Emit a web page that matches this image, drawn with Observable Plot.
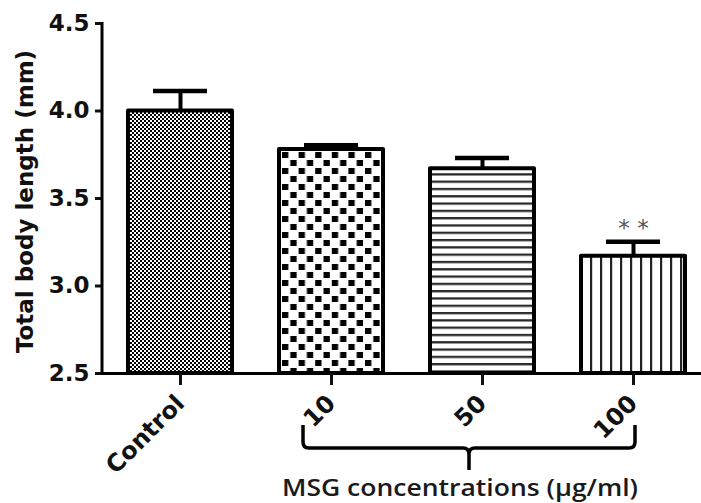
<!DOCTYPE html>
<html><head><meta charset="utf-8">
<script src="https://cdn.jsdelivr.net/npm/d3@7"></script>
<script src="https://cdn.jsdelivr.net/npm/@observablehq/plot@0.6"></script>
<style>body{margin:0;background:#fff} svg{display:block}</style>
</head><body><div id="chart"></div>
<script>
// ---- data ----
const categories = ["Control", "10", "50", "100"];
const means = [4.00, 3.78, 3.67, 3.17];
const sds = [0.115, 0.025, 0.062, 0.083];
const significance = ["", "", "", "* *"];
const yTicks = [2.5, 3.0, 3.5, 4.0, 4.5];
const yDomain = [2.5, 4.5];
const yLabel = "Total body length (mm)";
const xLabel = "MSG concentrations (µg/ml)";
const bracketFrom = "10", bracketTo = "100";

// ---- styles ----
const patternOf = {"Control": "url(#pat-fine)", "10": "url(#pat-check)", "50": "url(#pat-hlines)", "100": "url(#pat-vlines)"};

const data = categories.map((c, i) => ({cat: c, mean: means[i], sd: sds[i], top: means[i] + sds[i], sig: significance[i]}));
const base = yDomain[0];

const W = 701, H = 503, ML = 102, MR = 0, MT = 23, MB = 130;

const plot = Plot.plot({
  width: W, height: H, marginLeft: ML, marginRight: MR, marginTop: MT, marginBottom: MB,
  style: {fontFamily: "DejaVu Sans", background: "#fff", color: "#111", overflow: "visible"},
  x: {domain: categories, paddingInner: 0.314, paddingOuter: 0.1317, align: 0.614, label: null},
  y: {domain: yDomain, label: null},
  color: {type: "identity"},
  marks: [
    Plot.ruleX(data, {x: "cat", y1: "mean", y2: "top", stroke: "#000", strokeWidth: 4}),
    Plot.tickY(data, {x: "cat", y: "top", stroke: "#000", strokeWidth: 4.5, insetLeft: 25, insetRight: 25}),
    Plot.barY(data, {x: "cat", y1: () => base, y2: "mean", fill: d => patternOf[d.cat], stroke: "#000", strokeWidth: 4, strokeLinejoin: "round"}),
    Plot.text(data, {x: "cat", y: "top", text: "sig", dy: -13, fontSize: 23, fill: "#555"}),
    Plot.ruleY([base], {stroke: "#000", strokeWidth: 3}),
    Plot.axisY({ticks: yTicks, tickFormat: d3.format(".1f"), tickSize: 7, tickPadding: 6, fontSize: 23, fontWeight: "bold", strokeWidth: 3, label: null}),
    Plot.axisX({tickSize: 12, tickRotate: -45, tickPadding: 14, fontSize: 24, fontWeight: "bold", strokeWidth: 3, label: null}),
    Plot.text([yLabel], {frameAnchor: "left", textAnchor: "middle", dx: -77, dy: 3, rotate: -90, text: d => d, fontSize: 23, fontWeight: "bold"})
  ]
});

const xs = plot.scale("x"), ys = plot.scale("y");
const bw = xs.bandwidth;
const cx = c => xs.apply(c) + bw / 2;
const svg = d3.select(plot);

// patterns
const defs = svg.insert("defs", ":first-child");
function pat(id, w, h, x0, y0, rects) {
  const p = defs.append("pattern").attr("id", id).attr("patternUnits", "userSpaceOnUse")
    .attr("width", w).attr("height", h).attr("x", x0).attr("y", y0);
  p.append("rect").attr("width", w).attr("height", h).attr("fill", "#fff");
  rects.forEach(r => p.append("rect").attr("x", r[0]).attr("y", r[1]).attr("width", r[2]).attr("height", r[3]).attr("fill", r[4]));
}
pat("pat-fine", 4, 4, xs.apply("Control"), 0, [[0, 0, 2, 2, "#000"], [2, 2, 2, 2, "#000"]]);
pat("pat-check", 16.6, 16, xs.apply("10") + 3, ys.apply(means[1]) + 3, [[0, 0, 6.3, 6, "#000"], [8.3, 8, 6.3, 6, "#000"]]);
pat("pat-hlines", 8, 7.3, 0, ys.apply(means[2]) + 5, [[0, 0, 8, 2.3, "#2a2a2a"]]);
pat("pat-vlines", 10, 8, xs.apply("100") + 9, 0, [[0, 0, 2.2, 8, "#222"]]);

// y axis line
const y0 = ys.apply(yDomain[0]), y1 = ys.apply(yDomain[1]);
svg.append("line").attr("x1", ML).attr("x2", ML).attr("y1", y1 - 1).attr("y2", y0 + 1.5)
  .attr("stroke", "#000").attr("stroke-width", 3);

// bracket under the MSG groups
const xl = cx(bracketFrom) - 28, xr = cx(bracketTo) + 2, xm = (xl + xr) / 2;
const yT = y0 + 52, yB = y0 + 75, yS = yB + 22, r = 6;
svg.append("path")
  .attr("d", `M${xl},${yT} V${yB - r} Q${xl},${yB} ${xl + r},${yB} H${xm - r} Q${xm},${yB} ${xm},${yB + r} V${yS} M${xm},${yB + r} Q${xm},${yB} ${xm + r},${yB} H${xr - r} Q${xr},${yB} ${xr},${yB - r} V${yT}`)
  .attr("fill", "none").attr("stroke", "#000").attr("stroke-width", 3.5);

svg.append("text").attr("x", xm - 9).attr("y", 496).attr("text-anchor", "middle")
  .attr("font-family", "'Open Sans', sans-serif").attr("font-size", 23).attr("font-weight", 600)
  .attr("fill", "#1a1a1a").attr("textLength", 356).attr("lengthAdjust", "spacingAndGlyphs")
  .text(xLabel);

document.getElementById("chart").appendChild(plot);
</script>
</body></html>
